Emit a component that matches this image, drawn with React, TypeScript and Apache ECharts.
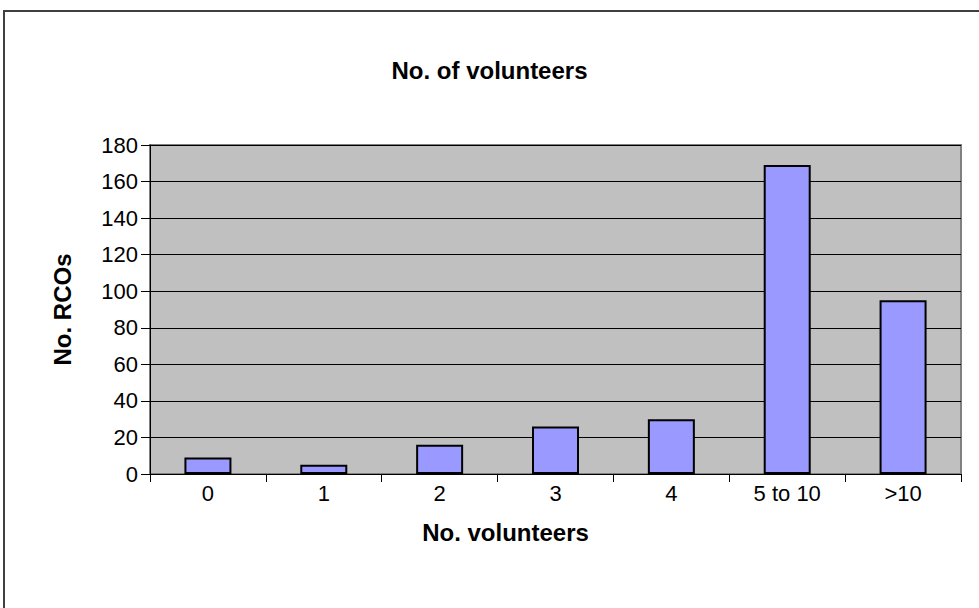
import React, { useEffect, useRef } from "react";
import * as echarts from "echarts";

const categories = ["0", "1", "2", "3", "4", "5 to 10", ">10"];
const rcoCounts = [9, 5, 16, 26, 30, 169, 95];
const yTicks = { min: 0, max: 180, interval: 20 };

const FONT = "'Liberation Sans', Arial, sans-serif";

export default function App() {
  const ref = useRef<HTMLDivElement>(null);

  useEffect(() => {
    if (!ref.current) return;
    const chart = echarts.init(ref.current, undefined, { renderer: "svg" });
    chart.setOption({
      animation: false,
      backgroundColor: "#ffffff",
      title: {
        text: "No. of volunteers",
        left: "center",
        top: 53,
        textStyle: { fontFamily: FONT, fontSize: 24, fontWeight: "bold", color: "#000" },
      },
      graphic: [
        {
          type: "rect",
          shape: { x: 4, y: 11, width: 1100, height: 800 },
          style: { fill: "none", stroke: "#404040", lineWidth: 2 },
          silent: true,
        },
      ],
      grid: {
        left: 150,
        top: 145,
        width: 811,
        height: 329,
        show: true,
        backgroundColor: "#C0C0C0",
        borderColor: "#808080",
        borderWidth: 2,
      },
      xAxis: {
        type: "category",
        data: categories,
        name: "No. volunteers",
        nameLocation: "middle",
        nameGap: 46,
        nameTextStyle: {
          fontFamily: FONT,
          fontSize: 24,
          fontWeight: "bold",
          color: "#000",
          padding: [0, 100, 0, 0],
        },
        axisLine: { show: true, lineStyle: { color: "#000", width: 1 } },
        axisTick: { show: true, length: 8, lineStyle: { color: "#000" } },
        axisLabel: { fontFamily: FONT, fontSize: 22, color: "#000", margin: 8 },
        splitLine: { show: false },
      },
      yAxis: {
        type: "value",
        min: yTicks.min,
        max: yTicks.max,
        interval: yTicks.interval,
        name: "No. RCOs",
        nameLocation: "middle",
        nameGap: 76,
        nameRotate: 90,
        nameTextStyle: { fontFamily: FONT, fontSize: 24, fontWeight: "bold", color: "#000" },
        axisLine: { show: true, lineStyle: { color: "#000", width: 1 } },
        axisTick: { show: true, length: 9, lineStyle: { color: "#000" } },
        axisLabel: { fontFamily: FONT, fontSize: 22, color: "#000", margin: 12 },
        splitLine: { show: true, lineStyle: { color: "#000", width: 1 } },
      },
      series: [
        {
          type: "bar",
          data: rcoCounts,
          barWidth: 47,
          itemStyle: { color: "#9999FF", borderColor: "#000", borderWidth: 2 },
        },
      ],
    });
    return () => chart.dispose();
  }, []);

  return (
    <div
      ref={ref}
      style={{ position: "fixed", left: 0, top: 0, width: 979, height: 608 }}
    />
  );
}
